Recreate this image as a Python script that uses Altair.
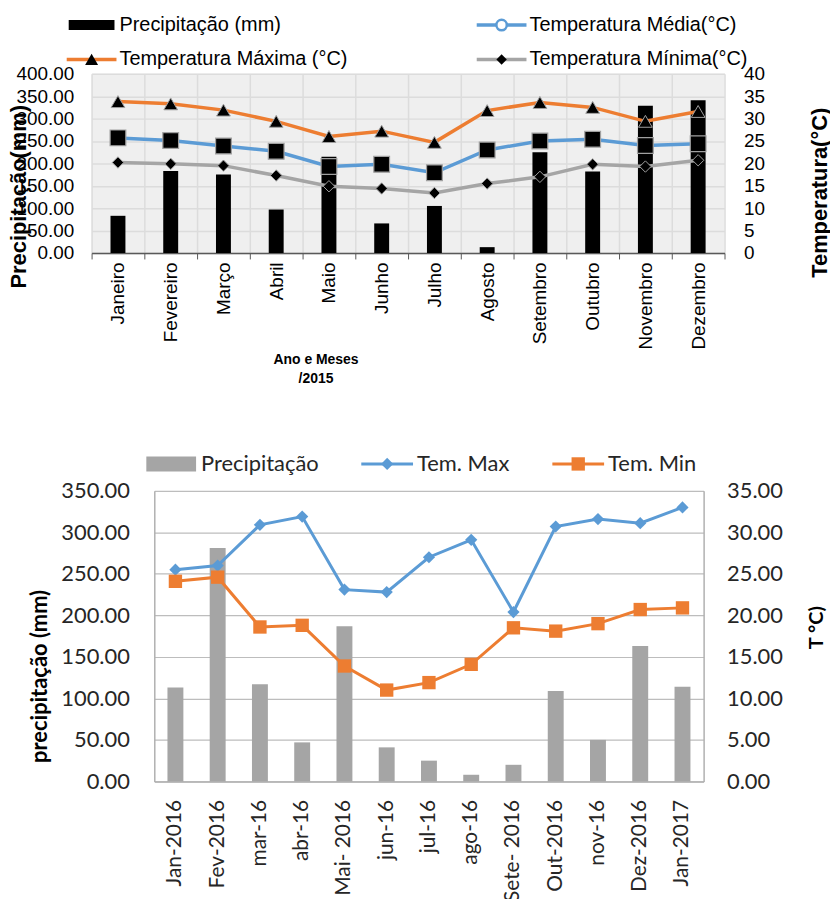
import altair as alt
import pandas as pd

# ---------------- data ----------------
meses_2015 = ["Janeiro", "Fevereiro", "Março", "Abril", "Maio", "Junho", "Julho",
              "Agosto", "Setembro", "Outubro", "Novembro", "Dezembro"]
precip_2015 = [83, 183, 175, 97, 215, 66, 105, 13, 225, 182, 329, 341]
tmax_2015 = [33.8, 33.3, 31.9, 29.4, 26.0, 27.2, 24.7, 31.8, 33.6, 32.5, 29.4, 31.6]
tmed_2015 = [25.7, 25.1, 23.9, 22.7, 19.3, 19.8, 17.9, 23.0, 25.0, 25.4, 24.0, 24.4]
tmin_2015 = [20.2, 19.9, 19.5, 17.3, 14.9, 14.4, 13.4, 15.5, 17.0, 19.8, 19.3, 20.7]

meses_2016 = ["Jan-2016", "Fev-2016", "mar-16", "abr-16", "Mai- 2016", "jun-16", "jul-16",
              "ago-16", "Sete- 2016", "Out-2016", "nov-16", "Dez-2016", "Jan-2017"]
precip_2016 = [113, 281, 117, 47, 187, 41, 25, 8, 20, 109, 50, 163, 114]
tmax_2016 = [25.5, 26.0, 30.9, 31.9, 23.1, 22.8, 27.0, 29.1, 20.4, 30.7, 31.6, 31.1, 33.0]
tmin_2016 = [24.1, 24.6, 18.6, 18.8, 13.9, 11.0, 11.9, 14.1, 18.5, 18.1, 19.0, 20.7, 20.9]

leg1_labels = ["Precipitação (mm)", "Temperatura Média(°C)",
               "Temperatura Máxima (°C)", "Temperatura Mínima(°C)"]
leg1_col = [0, 1, 0, 1]
leg1_row = [0, 0, 1, 1]
leg2_labels = ["Precipitação", "Tem. Max", "Tem. Min"]
leg2_col = [0, 1, 2]

series_2015 = ["Temperatura Máxima (°C)", "Temperatura Média(°C)", "Temperatura Mínima(°C)"]
series_2016 = ["Tem. Max", "Tem. Min"]

# ---------------- styles ----------------
SANS = "Liberation Sans"
NARROW = "Liberation Sans Narrow, Liberation Sans"
CAL = "Lato"
ORANGE = "#ED7D31"
BLUE = "#5B9BD5"
GRAY = "#A5A5A5"

W1, H1 = 636, 180
W2, H2 = 552, 292

# ---------------- top chart ----------------
bars1_df = pd.DataFrame({"mes": meses_2015, "prec": precip_2015})
temps1_df = pd.DataFrame({
    "mes": meses_2015 * 3,
    "serie": [s for s in series_2015 for _ in meses_2015],
    "temp": tmax_2015 + tmed_2015 + tmin_2015,
})

x1 = alt.X("mes:N", sort=meses_2015, scale=alt.Scale(paddingInner=0, paddingOuter=0),
           axis=alt.Axis(labelAngle=270, labelAlign="right", labelBaseline="middle",
                         labelFont=SANS, labelFontSize=19, labelColor="black", labelPadding=3,
                         tickBand="extent", ticks=True, tickSize=6, tickColor="#595959",
                         domainColor="#595959", domainWidth=1.5,
                         grid=True, gridColor="#dcdcdc", gridWidth=1.5,
                         title=["Ano e Meses", "/2015"], titleFont=NARROW, titleFontSize=14,
                         titleFontWeight="bold", titleColor="black", titleX=225, titleY=100,
                         titleAlign="center", titleBaseline="top", titleLineHeight=19))
x1b = alt.X("mes:N", sort=meses_2015)

y1_left = alt.Y("prec:Q", scale=alt.Scale(domain=[0, 400], nice=False),
                axis=alt.Axis(values=list(range(0, 401, 50)), format=".2f",
                              labelFont=SANS, labelFontSize=19, labelColor="black",
                              labelPadding=18, ticks=False, domain=False,
                              grid=True, gridColor="#dcdcdc", gridWidth=1.5,
                              title="Precipitação(mm)", titleFont=SANS, titleFontSize=22,
                              titleFontWeight="bold", titleColor="black", titleAngle=270,
                              titleX=-73, titleY=123, titleAlign="center", titleBaseline="middle"))
y1_right = alt.Y("temp:Q", scale=alt.Scale(domain=[0, 40], nice=False),
                 axis=alt.Axis(orient="right", values=list(range(0, 41, 5)), format="d",
                               labelFont=SANS, labelFontSize=19, labelColor="black",
                               labelPadding=19, ticks=False, domain=False, grid=False,
                               title="Temperatura(°C)", titleFont=SANS, titleFontSize=22,
                               titleFontWeight="bold", titleColor="black", titleAngle=270,
                               titleX=95, titleY=119, titleAlign="center", titleBaseline="middle"))

bars1 = alt.Chart(bars1_df).mark_bar(color="black", size=15).encode(x=x1, y=y1_left)

tbase = alt.Chart(temps1_df)
lines1 = tbase.mark_line(strokeWidth=3.5).encode(
    x=x1b, y=y1_right,
    color=alt.Color("serie:N", scale=alt.Scale(domain=series_2015, range=[ORANGE, BLUE, GRAY]),
                    legend=None))
pt_max = tbase.transform_filter(alt.datum.serie == series_2015[0]).mark_point(
    shape="triangle-up", filled=True, fill="black", stroke="#a0a0a0", strokeWidth=1,
    size=190, opacity=1).encode(x=x1b, y=y1_right)
pt_med = tbase.transform_filter(alt.datum.serie == series_2015[1]).mark_point(
    shape="square", filled=True, fill="black", stroke="#a0a0a0", strokeWidth=1.2,
    size=250, opacity=1).encode(x=x1b, y=y1_right)
pt_min = tbase.transform_filter(alt.datum.serie == series_2015[2]).mark_point(
    shape="diamond", filled=True, fill="black", stroke="#a0a0a0", strokeWidth=1,
    size=130, opacity=1).encode(x=x1b, y=y1_right)

temps1 = alt.layer(lines1, pt_max, pt_med, pt_min)
plot1 = alt.layer(bars1, temps1).resolve_scale(y="independent").properties(
    width=W1, height=H1, view=alt.ViewBackground(fill="#efefef", stroke=None))

# legend 1
leg1_df = pd.DataFrame({"label": leg1_labels, "col": leg1_col, "row": leg1_row})
lx1 = alt.X("col:Q", scale=alt.Scale(domain=[0, 1], range=[0, 412]), axis=None)
ly1 = alt.Y("row:Q", scale=alt.Scale(domain=[0, 1], range=[15, 49.5]), axis=None)
lb1 = alt.Chart(leg1_df)
leg1 = alt.layer(
    lb1.transform_filter(alt.datum.label == leg1_labels[0]).mark_rule(
        color="black", strokeWidth=10, xOffset=-23, x2Offset=23).encode(
        x=lx1, x2=alt.X2("col"), y=ly1),
    lb1.transform_filter(alt.datum.label != leg1_labels[0]).mark_rule(
        strokeWidth=3.5, xOffset=-25, x2Offset=25).encode(
        x=lx1, x2=alt.X2("col"), y=ly1,
        color=alt.Color("label:N", scale=alt.Scale(domain=leg1_labels[1:],
                                                   range=[BLUE, ORANGE, GRAY]), legend=None)),
    lb1.transform_filter(alt.datum.label == leg1_labels[2]).mark_point(
        shape="triangle-up", filled=True, fill="black", size=170, opacity=1).encode(x=lx1, y=ly1),
    lb1.transform_filter(alt.datum.label == leg1_labels[1]).mark_point(
        shape="circle", filled=True, fill="white", stroke=BLUE, strokeWidth=2.5,
        size=110, opacity=1).encode(x=lx1, y=ly1),
    lb1.transform_filter(alt.datum.label == leg1_labels[3]).mark_point(
        shape="diamond", filled=True, fill="black", size=110, opacity=1).encode(x=lx1, y=ly1),
    lb1.mark_text(align="left", baseline="middle", dx=28, font=SANS, fontSize=20,
                  color="black").encode(x=lx1, y=ly1, text="label:N"),
).properties(width=W1, height=55)

# ---------------- bottom chart ----------------
bars2_df = pd.DataFrame({"mes": meses_2016, "prec": precip_2016})
temps2_df = pd.DataFrame({
    "mes": meses_2016 * 2,
    "serie": [s for s in series_2016 for _ in meses_2016],
    "temp": tmax_2016 + tmin_2016,
})

x2 = alt.X("mes:N", sort=meses_2016, scale=alt.Scale(paddingInner=0, paddingOuter=0),
           axis=alt.Axis(labelAngle=270, labelAlign="right", labelBaseline="middle",
                         labelFont=CAL, labelFontSize=21, labelColor="#262626", labelPadding=18,
                         ticks=False, tickSize=0, domainColor="#b0b0b0", domainWidth=1.5,
                         grid=False, title=None))
x2b = alt.X("mes:N", sort=meses_2016)

y2_left = alt.Y("prec:Q", scale=alt.Scale(domain=[0, 350], nice=False),
                axis=alt.Axis(values=list(range(0, 351, 50)), format=".2f",
                              labelFont=CAL, labelFontSize=22, labelColor="#262626",
                              labelPadding=25, ticks=False, domain=True, domainColor="#b0b0b0",
                              domainWidth=1.5, grid=True, gridColor="#bdbdbd", gridWidth=1.2,
                              title="precipitação (mm)", titleFont=CAL, titleFontSize=22,
                              titleFontWeight="bold", titleColor="black", titleAngle=270,
                              titleX=-115, titleY=186, titleAlign="center",
                              titleBaseline="middle"))
y2_right = alt.Y("temp:Q", scale=alt.Scale(domain=[0, 35], nice=False),
                 axis=alt.Axis(orient="right", values=list(range(0, 36, 5)), format=".2f",
                               labelFont=CAL, labelFontSize=22, labelColor="#262626",
                               labelPadding=23, ticks=False, domain=True, domainColor="#b0b0b0",
                               domainWidth=1.5, grid=False,
                               title="T °C)", titleFont=CAL, titleFontSize=20,
                               titleFontWeight="bold", titleColor="black", titleAngle=270,
                               titleX=113, titleY=137, titleAlign="center",
                               titleBaseline="middle"))

bars2 = alt.Chart(bars2_df).mark_bar(color=GRAY, size=16).encode(x=x2, y=y2_left)
tb2 = alt.Chart(temps2_df)
lines2 = tb2.mark_line(strokeWidth=3).encode(
    x=x2b, y=y2_right,
    color=alt.Color("serie:N", scale=alt.Scale(domain=series_2016, range=[BLUE, ORANGE]),
                    legend=None))
pts2_max = tb2.transform_filter(alt.datum.serie == series_2016[0]).mark_point(
    shape="diamond", filled=True, color=BLUE, size=150, opacity=1).encode(x=x2b, y=y2_right)
pts2_min = tb2.transform_filter(alt.datum.serie == series_2016[1]).mark_point(
    shape="square", filled=True, color=ORANGE, size=180, opacity=1).encode(x=x2b, y=y2_right)
temps2 = alt.layer(lines2, pts2_max, pts2_min)
plot2 = alt.layer(bars2, temps2).resolve_scale(y="independent").properties(
    width=W2, height=H2)

# legend 2
leg2_df = pd.DataFrame({"label": leg2_labels, "col": leg2_col, "row": [0, 0, 0]})
lx2 = alt.X("col:Q", scale=alt.Scale(domain=[0, 1, 2], range=[80, 297, 489]), axis=None)
ly2 = alt.Y("row:Q", scale=alt.Scale(domain=[0, 1], range=[79, 119]), axis=None)
lb2 = alt.Chart(leg2_df)
leg2 = alt.layer(
    lb2.transform_filter(alt.datum.label == leg2_labels[0]).mark_rule(
        color=GRAY, strokeWidth=15, xOffset=-25, x2Offset=25).encode(
        x=lx2, x2=alt.X2("col"), y=ly2),
    lb2.transform_filter(alt.datum.label != leg2_labels[0]).mark_rule(
        strokeWidth=3, xOffset=-26, x2Offset=26).encode(
        x=lx2, x2=alt.X2("col"), y=ly2,
        color=alt.Color("label:N", scale=alt.Scale(domain=leg2_labels[1:], range=[BLUE, ORANGE]),
                        legend=None)),
    lb2.transform_filter(alt.datum.label == leg2_labels[1]).mark_point(
        shape="diamond", filled=True, color=BLUE, size=150, opacity=1).encode(x=lx2, y=ly2),
    lb2.transform_filter(alt.datum.label == leg2_labels[2]).mark_point(
        shape="square", filled=True, color=ORANGE, size=180, opacity=1).encode(x=lx2, y=ly2),
    lb2.mark_text(align="left", baseline="middle", dx=30, font=CAL, fontSize=22,
                  color="#262626").encode(x=lx2, y=ly2, text="label:N"),
).properties(width=W1, height=100)

spacer = alt.Chart(pd.DataFrame({"v": [0]})).mark_point(opacity=0).encode(
    x=alt.value(0), y=alt.value(0)).properties(width=63, height=10)

row4 = alt.hconcat(spacer, plot2, spacing=0, bounds="flush")

chart = alt.vconcat(leg1, plot1, leg2, row4, spacing=-5).properties(
    padding={"left": 0, "top": 0, "right": 0, "bottom": -5}
).configure_view(stroke=None)

chart.save("out.html", embed_options={"renderer": "svg", "actions": False})
